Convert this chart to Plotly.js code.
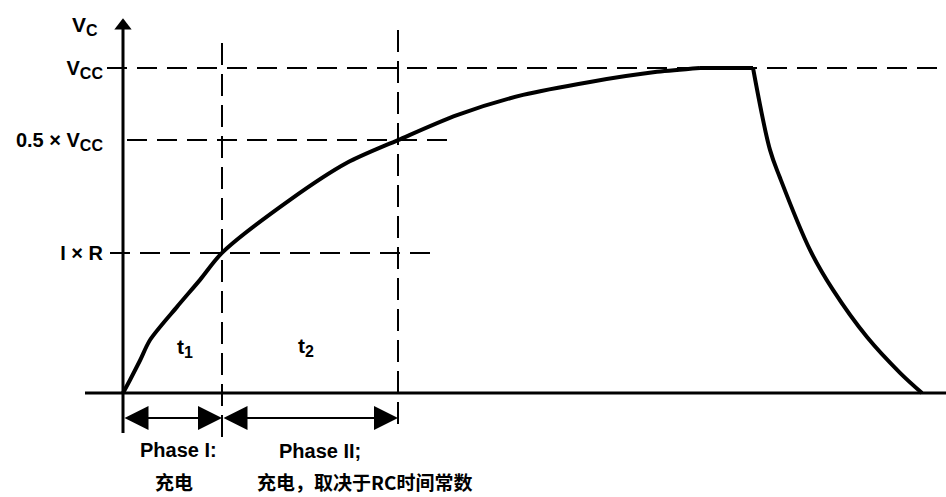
<!DOCTYPE html>
<html><head><meta charset="utf-8">
<script src="https://cdn.plot.ly/plotly-3.0.1.min.js"></script>
<style>html,body{margin:0;padding:0;background:#fff}#chart{width:946px;height:497px}</style>
</head><body><div id="chart"></div>
<script>
// ---- data ----
const riseT = [0, 0.07, 0.17, 0.27, 0.54, 0.77, 0.99, 1.67, 2.24, 2.75, 3.34, 4.00, 4.67, 5.34, 5.77];
const riseV = [0, 0.04, 0.10, 0.163, 0.265, 0.348, 0.431, 0.594, 0.708, 0.778, 0.855, 0.917, 0.957, 0.988, 1.0];
const plateauT = [5.77, 6.30];
const plateauV = [1.0, 1.0];
const fallT = [6.30, 6.47, 6.57, 6.87, 7.10, 7.44, 7.77, 7.99];
const fallV = [1.0, 0.748, 0.662, 0.44, 0.317, 0.172, 0.062, 0];
const levelV = [1.0, 0.778, 0.431];
const levelText = ['V<sub><span style="font-size:16px">CC</span></sub>',
                   '0.5 × V<sub><span style="font-size:16px">CC</span></sub>', 'I × R'];
const phaseT = [0, 0.99, 2.75];
const phaseNames = ['Phase I:', 'Phase II;'];
const phaseDesc = ['充电', '充电，取决于RC时间常数'];
const intervalNames = ['t<sub><span style="font-size:16px">1</span></sub>',
                       't<sub><span style="font-size:16px">2</span></sub>'];
const axisTitle = 'V<sub><span style="font-size:16px">C</span></sub>';

// ---- geometry / style (not data) ----
const FONT = 'Liberation Sans, Arial, sans-serif';
const xRange = [-1.23, 8.23];
const yRange = [-0.32, 1.209];
const levelExtents = [[-0.16, 8.23], [0.04, 3.27], [-0.13, 3.14]];
const vGuideExt = [[1.077, -0.154], [1.117, -0.12]]; // for phaseT[1], phaseT[2]
const arrowRowY = -0.077;
const dashH = '20px,10px';
const dashV = '22px,9px';

const traces = [];
levelV.forEach((v, i) => {
  traces.push({x: levelExtents[i], y: [v, v], mode: 'lines', hoverinfo: 'skip',
    line: {color: '#000', width: 2, dash: dashH}});
});
[1, 2].forEach((k, i) => {
  traces.push({x: [phaseT[k], phaseT[k]], y: vGuideExt[i], mode: 'lines', hoverinfo: 'skip',
    line: {color: '#000', width: 2, dash: dashV}});
});
traces.push({x: [-0.38, xRange[1]], y: [0, 0], mode: 'lines', hoverinfo: 'skip',
  line: {color: '#000', width: 3}});
traces.push({x: [0, 0], y: [-0.123, 1.12], mode: 'lines', hoverinfo: 'skip',
  line: {color: '#000', width: 3}});
traces.push({x: [0], y: [1.13], mode: 'markers', hoverinfo: 'skip',
  marker: {symbol: 'triangle-up', size: 15, color: '#000'}});
traces.push({x: riseT, y: riseV, mode: 'lines', line: {color: '#000', width: 4, shape: 'spline', smoothing: 0.8}});
traces.push({x: plateauT, y: plateauV, mode: 'lines', line: {color: '#000', width: 4}});
traces.push({x: fallT, y: fallV, mode: 'lines', line: {color: '#000', width: 4, shape: 'spline', smoothing: 1}});

const tf = {family: FONT, size: 20, color: '#000', weight: 'bold'};
const cjk = {family: 'Noto Sans CJK SC, ' + FONT, size: 19, color: '#000', weight: 'bold'};
const annotations = [];
for (let i = 0; i < 2; i++) {
  annotations.push({x: phaseT[i + 1], y: arrowRowY, ax: phaseT[i], ay: arrowRowY,
    xref: 'x', yref: 'y', axref: 'x', ayref: 'y', text: '', showarrow: true,
    arrowhead: 2, startarrowhead: 2, arrowside: 'end+start', arrowsize: 2.4, startarrowsize: 2.4,
    arrowwidth: 2, arrowcolor: '#000', standoff: 0, startstandoff: 0});
}
const phaseNamePos = [[0.55, -0.175], [1.97, -0.178]];
const phaseDescPos = [[0.51, -0.271], [2.41, -0.271]];
const intervalPos = [[0.62, 0.138], [1.83, 0.142]];
for (let i = 0; i < 2; i++) {
  annotations.push({x: phaseNamePos[i][0], y: phaseNamePos[i][1], xref: 'x', yref: 'y',
    text: phaseNames[i], showarrow: false, font: tf});
  annotations.push({x: phaseDescPos[i][0], y: phaseDescPos[i][1], xref: 'x', yref: 'y',
    text: phaseDesc[i], showarrow: false, font: cjk});
  annotations.push({x: intervalPos[i][0], y: intervalPos[i][1], xref: 'x', yref: 'y',
    text: intervalNames[i], showarrow: false, font: {family: FONT, size: 21, color: '#000', weight: 'bold'}});
}
annotations.push({x: -0.23, y: 1.129, xref: 'x', yref: 'y', xanchor: 'right', text: axisTitle,
  showarrow: false, font: {family: FONT, size: 21, color: '#000', weight: 'bold'}});

const layout = {
  width: 946, height: 497,
  margin: {l: 0, r: 0, t: 0, b: 0},
  paper_bgcolor: '#fff', plot_bgcolor: '#fff',
  showlegend: false,
  xaxis: {range: xRange, visible: false, fixedrange: true},
  yaxis: {range: yRange, anchor: 'free', position: 0.13, automargin: false,
    showline: false, showgrid: false, zeroline: false, ticks: '',
    tickvals: levelV, ticktext: levelText, tickfont: tf, ticklabelstandoff: 20, fixedrange: true},
  annotations: annotations
};
Plotly.newPlot('chart', traces, layout, {staticPlot: true, displayModeBar: false});
</script></body></html>
